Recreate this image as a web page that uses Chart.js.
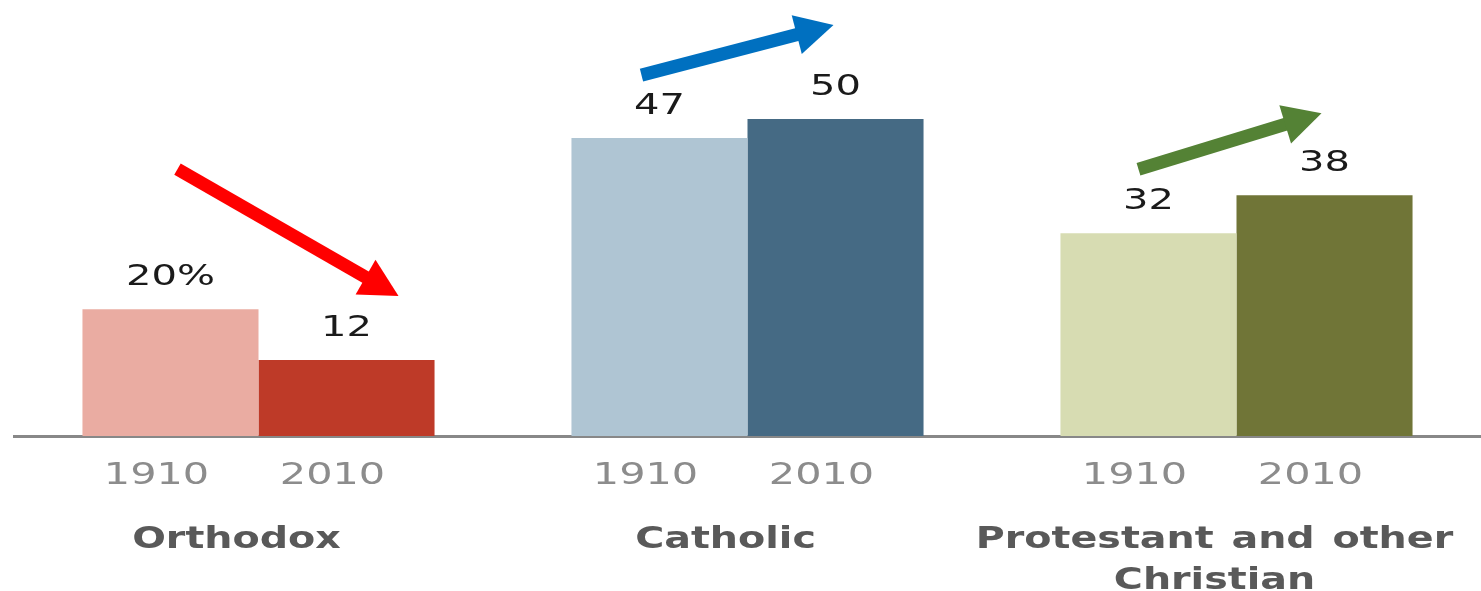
<!DOCTYPE html>
<html>
<head>
<meta charset="utf-8">
<script src="https://cdn.jsdelivr.net/npm/chart.js@4"></script>
<style>
  html, body { margin: 0; padding: 0; background: #fff; }
  #wrap { width: 1481px; height: 591px; }
</style>
</head>
<body>
<div id="wrap"><canvas id="chart"></canvas></div>
<script>
// Data
const categories = ['Orthodox', 'Catholic', ['Protestant and other', 'Christian']];
const years = ['1910', '2010'];
const values1910 = [20, 47, 32];
const values2010 = [12, 50, 38];

// Bar colours per category
const colors1910 = ['#EAACA2', '#AFC5D3', '#D7DCB2'];
const colors2010 = ['#BE3A28', '#456A84', '#707537'];
const arrowColors = ['#FF0000', '#0070C0', '#548235'];

// Arrow anchors relative to the bars (px offsets from bar centre / bar top)
const arrowOffsets = [
    { tail: [7, -140], tip: [52, -64] },
    { tail: [-18, -63], tip: [-2, -94] },
    { tail: [-10, -64], tip: [-3, -82] }
];

// Draw text stretched horizontally
function stretchText(ctx, text, x, y, sx) {
    ctx.save();
    ctx.translate(x, y);
    ctx.scale(sx, 1);
    ctx.fillText(text, 0, 0);
    ctx.restore();
}

function drawArrow(ctx, x1, y1, x2, y2, color) {
    const headLen = 38;
    const headHalf = 20;
    const ang = Math.atan2(y2 - y1, x2 - x1);
    const bx = x2 - headLen * Math.cos(ang);
    const by = y2 - headLen * Math.sin(ang);
    ctx.save();
    ctx.strokeStyle = color;
    ctx.fillStyle = color;
    ctx.lineWidth = 13;
    ctx.lineCap = 'butt';
    ctx.beginPath();
    ctx.moveTo(x1, y1);
    ctx.lineTo(bx + 2 * Math.cos(ang), by + 2 * Math.sin(ang));
    ctx.stroke();
    ctx.beginPath();
    ctx.moveTo(x2, y2);
    ctx.lineTo(bx + headHalf * Math.sin(ang), by - headHalf * Math.cos(ang));
    ctx.lineTo(bx - headHalf * Math.sin(ang), by + headHalf * Math.cos(ang));
    ctx.closePath();
    ctx.fill();
    ctx.restore();
}

const labelPlugin = {
    id: 'labelPlugin',
    afterDatasetsDraw(chart) {
        const ctx = chart.ctx;
        const bars0 = chart.getDatasetMeta(0).data;
        const bars1 = chart.getDatasetMeta(1).data;
        const xScale = chart.scales.x;
        const bottom = chart.chartArea.bottom;

        ctx.save();
        ctx.textAlign = 'center';
        ctx.textBaseline = 'alphabetic';

        // value labels above bars
        ctx.font = '29px "DejaVu Sans"';
        ctx.fillStyle = '#1a1a1a';
        [bars0, bars1].forEach((bars, d) => {
            const vals = d === 0 ? values1910 : values2010;
            bars.forEach((bar, i) => {
                const txt = (d === 0 && i === 0) ? vals[i] + '%' : String(vals[i]);
                stretchText(ctx, txt, bar.x, bar.y - 24, 1.38);
            });
        });

        // year labels under bars
        ctx.font = '30px "DejaVu Sans"';
        ctx.fillStyle = '#8c8c8c';
        [bars0, bars1].forEach((bars, d) => {
            bars.forEach(bar => {
                stretchText(ctx, years[d], bar.x - 14, bottom + 48, 1.38);
            });
        });

        // category names
        ctx.font = 'bold 30px "DejaVu Sans"';
        ctx.fillStyle = '#595959';
        ctx.wordSpacing = '3px';
        categories.forEach((cat, i) => {
            const lines = Array.isArray(cat) ? cat : [cat];
            const cx = xScale.getPixelForValue(i) - 22;
            lines.forEach((line, j) => {
                stretchText(ctx, line, cx, bottom + 112 + j * 41, 1.32);
            });
        });
        ctx.restore();

        // trend arrows
        arrowOffsets.forEach((a, i) => {
            const b0 = bars0[i];
            const b1 = bars1[i];
            drawArrow(ctx,
                b0.x + a.tail[0], b0.y + a.tail[1],
                b1.x + a.tip[0], b1.y + a.tip[1],
                arrowColors[i]);
        });
    }
};

const chart = new Chart(document.getElementById('chart'), {
    type: 'bar',
    data: {
        labels: categories,
        datasets: [
            {
                label: years[0],
                data: values1910,
                backgroundColor: colors1910,
                categoryPercentage: 0.72,
                barPercentage: 1.0
            },
            {
                label: years[1],
                data: values2010,
                backgroundColor: colors2010,
                categoryPercentage: 0.72,
                barPercentage: 1.0
            }
        ]
    },
    options: {
        responsive: true,
        maintainAspectRatio: false,
        animation: false,
        layout: {
            padding: { left: 14, right: 0, top: 5, bottom: 147 }
        },
        plugins: {
            legend: { display: false },
            tooltip: { enabled: false }
        },
        scales: {
            x: {
                grid: { display: false },
                ticks: { display: false },
                border: { display: true, color: '#888888', width: 3 }
            },
            y: {
                display: false,
                min: 0,
                max: 68
            }
        }
    },
    plugins: [labelPlugin]
});
</script>
</body>
</html>
